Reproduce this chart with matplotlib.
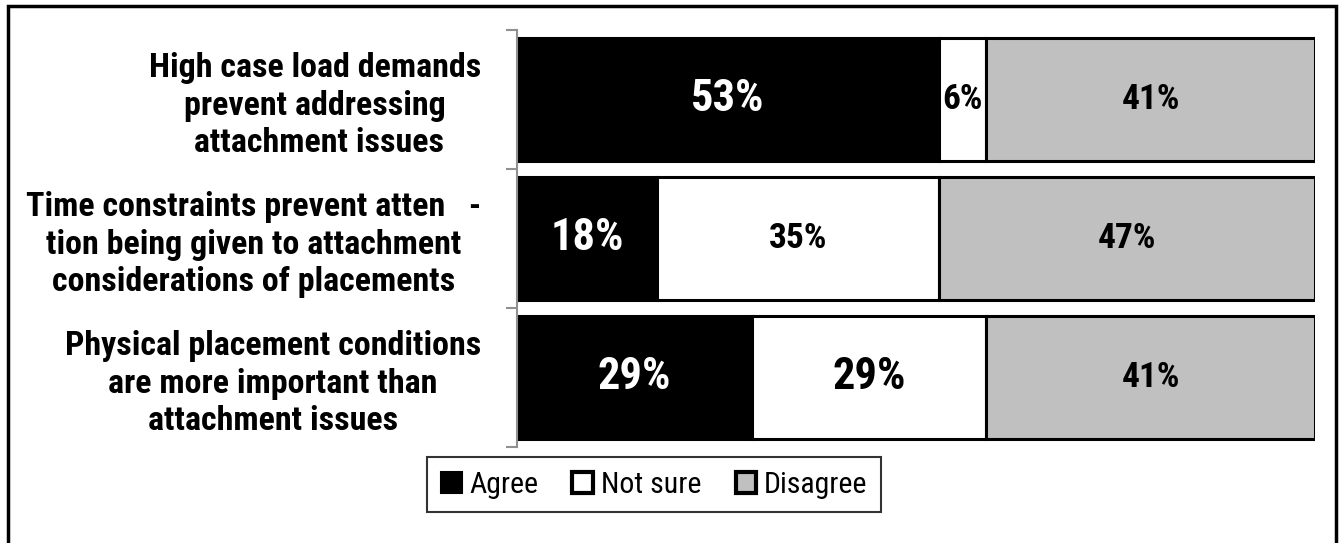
import matplotlib
matplotlib.use("Agg")
import matplotlib.pyplot as plt
from matplotlib.patches import Patch, Rectangle

plt.rcParams['font.family'] = ['Roboto Condensed', 'Liberation Sans', 'DejaVu Sans']

statements = [
    "High case load demands\nprevent addressing\n attachment issues",
    "Time constraints prevent atten   -\ntion being given to attachment\nconsiderations of placements",
    "Physical placement conditions\nare more important than\nattachment issues",
]
responses = ["Agree", "Not sure", "Disagree"]
agree = [52.9, 17.6, 29.4]
not_sure = [5.9, 35.3, 29.4]
disagree = [41.2, 47.1, 41.2]

colors = ["#000000", "#ffffff", "#c0c0c0"]
text_colors = ["white", "black", "black"]
# label sizes per row, per segment
label_sizes = [[32, 25.5, 25.5], [32, 25.5, 25.5], [32, 32, 25.5]]


def main():
    fig = plt.figure(figsize=(13.41, 5.43), dpi=100)
    ax = fig.add_axes([0.3855, 0.1768, 0.5951, 0.768])

    series = [agree, not_sure, disagree]
    ypos = list(range(len(statements)))
    left = [0.0] * len(statements)
    for k, vals in enumerate(series):
        ax.barh(ypos, vals, left=left, height=0.89, color=colors[k],
                edgecolor="black", linewidth=2.2, label=responses[k])
        for i, v in enumerate(vals):
            ax.text(left[i] + v / 2, ypos[i], f"{v:.0f}%", ha="center", va="center",
                    color=text_colors[k], fontsize=label_sizes[i][k], fontweight="bold")
        left = [l + v for l, v in zip(left, vals)]

    ax.set_xlim(0, 100)
    ax.set_ylim(len(statements) - 0.5, -0.5)
    ax.set_xticks([])
    ax.set_yticks(ypos)
    ax.set_yticklabels(statements, fontsize=24.5, fontweight="bold", multialignment="center",
                       linespacing=1.22)
    ax.tick_params(axis="y", which="major", length=0, pad=26)
    ax.set_yticks([y - 0.5 for y in ypos] + [ypos[-1] + 0.5], minor=True)
    ax.tick_params(axis="y", which="minor", length=8, width=1.5, color="#909090")
    for side in ["top", "right", "bottom"]:
        ax.spines[side].set_visible(False)
    ax.spines["left"].set_color("#909090")
    ax.spines["left"].set_linewidth(1.5)

    handles = [Patch(facecolor=colors[0], edgecolor="black", linewidth=1.5),
               Patch(facecolor=colors[1], edgecolor="black", linewidth=3),
               Patch(facecolor=colors[2], edgecolor="black", linewidth=3)]
    leg = fig.legend(handles, responses, loc="center", bbox_to_anchor=(0.4877, 0.1077),
                     ncol=3, fontsize=21.5, frameon=True, fancybox=False,
                     handlelength=0.7, handleheight=0.7, handletextpad=0.25,
                     columnspacing=1.15, borderpad=0.45)
    leg.get_frame().set_edgecolor("black")
    leg.get_frame().set_linewidth(1.5)

    # outer chart border
    fig.patches.append(Rectangle((0.0056, -0.05), 0.9903, 1.039, transform=fig.transFigure,
                                 fill=False, edgecolor="black", linewidth=2.5))

    fig.savefig("out.png", dpi=100)


if __name__ == '__main__':
    main()
